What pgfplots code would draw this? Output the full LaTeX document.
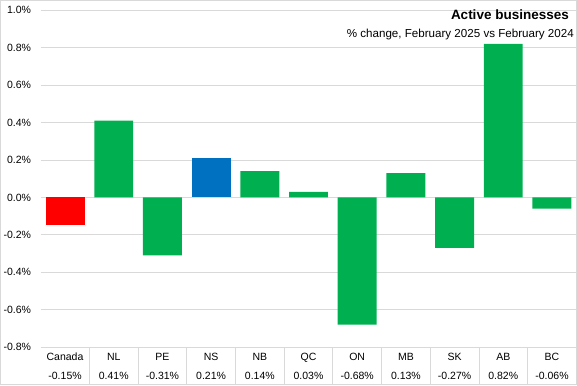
\documentclass[border=0pt]{standalone}
\usepackage{pgfplots}
\pgfplotsset{compat=1.18}
\usepackage{fontspec}
\setmainfont{Liberation Sans}
\definecolor{cgreen}{HTML}{00B050}
\definecolor{cred}{HTML}{FF0000}
\definecolor{cblue}{HTML}{0070C0}
\definecolor{cgrid}{HTML}{D9D9D9}
\newcommand\TL[2]{\rule{0pt}{8pt}#1\\#2}
\begin{document}
\begin{tikzpicture}
\useasboundingbox (-40.7pt,-37.9pt) rectangle (536.3pt,347.1pt);
\draw[cgrid, line width=0.8pt] (-40.3pt,-37.5pt) rectangle (535.9pt,346.7pt);
\begin{axis}[
  at={(0pt,0pt)}, anchor=south west,
  scale only axis, width=535.6pt, height=336.8pt,
  ybar, bar width=0.8, bar shift=0pt,
  xmin=-0.5, xmax=10.5, ymin=-0.8, ymax=1.0,
  axis line style={draw=none},
  ytick={-0.8,-0.6,-0.4,-0.2,0,0.2,0.4,0.6,0.8,1.0},
  ymajorgrids, grid style={cgrid, line width=0.8pt},
  xtick style={draw=none}, ytick style={draw=none},
  xtick pos=left,
  /pgf/number format/assume math mode=true,
  yticklabel={\pgfmathprintnumber[fixed,fixed zerofill,precision=1]{\tick}\%},
  yticklabel style={font=\fontsize{10.5}{12}\selectfont, inner sep=0pt, anchor=east, xshift=-9.5pt},
  xtick={0,1,2,3,4,5,6,7,8,9,10},
  xticklabels={\TL{Canada}{-0.15\%},\TL{NL}{0.41\%},\TL{PE}{-0.31\%},\TL{NS}{0.21\%},\TL{NB}{0.14\%},\TL{QC}{0.03\%},\TL{ON}{-0.68\%},\TL{MB}{0.13\%},\TL{SK}{-0.27\%},\TL{AB}{0.82\%},\TL{BC}{-0.06\%}},
  xticklabel style={align=center, anchor=north, inner sep=0pt, yshift=-1.4pt, font=\fontsize{10.5}{18.5}\selectfont},
  extra x ticks={0.5,1.5,2.5,3.5,4.5,5.5,6.5,7.5,8.5,9.5},
  extra x tick labels={},
  extra x tick style={grid=none, major tick length=37.5pt, tick align=outside, xtick style={draw=cgrid, line width=0.8pt}},
]
\addplot[fill=cred, draw=none] coordinates {(0,-0.15)};
\addplot[fill=cblue, draw=none] coordinates {(3,0.21)};
\addplot[fill=cgreen, draw=none] coordinates {(1,0.41) (2,-0.31) (4,0.14) (5,0.03) (6,-0.68) (7,0.13) (8,-0.27) (9,0.82) (10,-0.06)};
\end{axis}
\node[anchor=base east, inner sep=0pt, font=\bfseries\fontsize{13.5}{16}\selectfont] at (528.3pt,327.6pt) {Active businesses};
\node[anchor=base east, inner sep=0pt, font=\fontsize{11.6}{13}\selectfont] at (533.3pt,309.8pt) {\% change, February 2025 vs February 2024};
\end{tikzpicture}
\end{document}
